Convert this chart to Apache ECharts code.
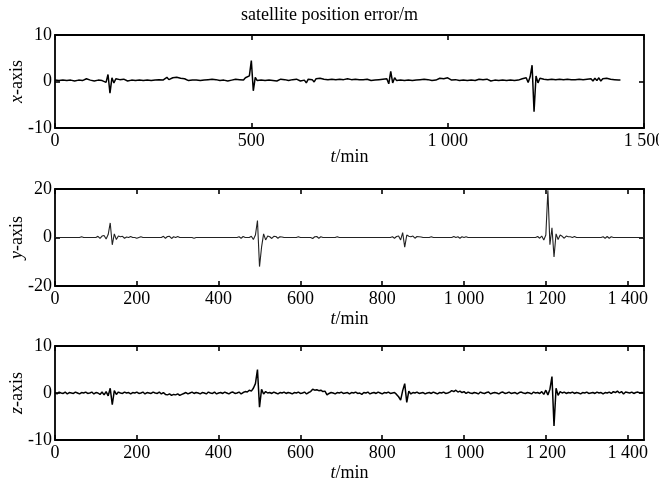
<!DOCTYPE html>
<html><head><meta charset="utf-8">
<script src="https://cdn.jsdelivr.net/npm/echarts@6/dist/echarts.min.js"></script>
<style>html,body{margin:0;padding:0;background:#fff}#c{width:659px;height:481px}</style>
</head><body><div id="c"></div>
<script>
// sample step (minutes)
var stepMin = 5;
var titleText = 'satellite position error/m';
// x-axis error (m), one row per hour (12 samples of 5 min)
var errX = [
0.3,0.5,0.2,0.4,0.3,0.6,0.2,0.4,0.3,0.5,0.1,0.4,
0.3,0.5,0.2,0.4,0.6,0.2,0.3,0.5,0.1,0.4,0.3,0.6,
0.2,0.5,-0.2,1.5,-2.5,0.8,-0.3,0.6,0.2,0.4,0.3,0.5,
0.3,0.1,0.4,0.3,0.5,0.2,0.4,0.3,0.6,0.2,0.4,0.3,
0.5,0.2,0.4,0.3,0.1,0.4,0.6,0.3,0.6,0.9,0.4,0.7,
0.8,0.4,0.9,0.5,0.7,0.3,0.6,0.4,0.2,0.5,0.3,0.4,
0.3,0.5,0.2,0.4,0.3,0.1,0.4,0.3,0.5,0.2,0.4,0.3,
0.2,0.4,0.3,0.5,0.1,0.4,0.3,0.2,0.5,0.3,0.4,0.6,
0.3,0.8,0.5,1.2,4.5,-2.0,0.9,0.2,0.5,0.3,0.4,0.2,
0.4,0.3,0.5,0.2,0.4,0.1,0.3,0.5,0.2,0.4,0.3,0.2,
0.3,0.4,0.2,0.5,0.3,0.1,-0.2,0.3,-0.3,0.5,0.1,0.4,
-0.1,0.6,0.2,0.7,0.3,0.5,0.2,0.4,0.3,0.5,0.2,0.4,
0.3,0.5,0.2,0.4,0.3,0.6,0.2,0.4,0.3,0.5,0.3,0.4,
0.2,0.4,0.3,0.5,0.4,0.2,0.5,0.3,0.6,0.4,0.2,0.5,
0.3,0.6,-0.5,2.2,-0.3,0.8,0.2,0.5,0.3,0.4,0.2,0.5,
0.3,0.4,0.2,0.5,0.3,0.1,0.4,0.3,0.5,0.2,0.4,0.3,
0.2,0.4,0.3,0.5,0.7,0.3,0.6,0.4,0.8,0.5,0.3,0.7,
0.4,0.6,0.2,0.5,0.3,0.4,0.2,0.5,0.3,0.4,0.2,0.3,
0.5,0.3,0.4,0.2,0.5,0.3,0.1,0.4,0.3,0.5,0.2,0.4,
0.3,0.5,0.2,0.4,0.3,0.6,0.2,0.4,0.3,0.5,0.6,0.2,
0.8,-0.2,1.0,3.5,-6.5,1.2,-0.3,0.7,0.3,0.5,0.2,0.4,
0.3,0.5,0.2,0.4,0.3,0.5,0.2,0.4,0.3,0.5,0.2,0.4,
0.3,0.4,0.2,0.5,0.3,0.4,0.2,0.5,0.3,0.6,0.1,0.7,
0.2,0.8,0.1,0.6,0.3,0.7,0.4,0.5,0.3,0.4,0.2,0.3,
0.3];
// y-axis error (m)
var errY = [
0,0,0,0,0,0,0,0,0,0,0,0,
0,0.3,0,0,0,0,0,0,0,0.5,-0.4,0.6,
0.8,-0.6,1.2,6.0,-3.0,1.5,-0.8,0.6,0.3,0.5,-0.3,0.2,
0,0.4,0,0,-0.3,0,0.3,0,0,0,0,0,
0,0,0,0,0,0.5,-0.3,0.4,0.5,-0.4,0.3,0,
0.4,0,0,0,0,0,0,0,-0.3,0,0,0,
0,0,0,0,0,0,0,0,0,0,0,0,
0,0,0,0,0,0,0.3,-0.3,0.4,0,0,0,
0.5,-0.8,1.0,7.0,-12.0,-4.0,1.5,-1.0,0.6,0.3,-0.4,0.5,
0.4,-0.3,0.3,0.2,0,0,0,0,0,0,0,0.3,
0,0,0,0,0,0,-0.4,0.3,0.4,-0.3,0.3,0,
0,0,0,0,0,0,0.3,0,0,0,0,0,
0,0,0,0,0,0,0,0,0,0,0,0,
0,0,0,0,0,0,0,0,0,0.3,-0.3,0.4,
0.6,-1.0,2.0,-4.0,1.0,0.5,0.3,0.6,-0.3,0.4,0.3,0.2,
0,0,0,0,0.3,0,0,0,0,0,0,0,
0,0,0,0.4,0,0.3,-0.3,0.3,0,0.3,0,0,
0,0,0,0,0,0,0,0,0,0,0,0,
0,0,0,0,0,0,0,0,0,0,0,0,
0,0,0,0,0,0,0,0,0.4,-0.3,0.6,-1.0,
1.0,19.5,-3.0,4.0,-8.0,1.5,-0.8,1.0,0.5,-0.3,0.6,0.3,
0.3,0,0.4,0,0,0,0,0,0,0,0,0,
0,0,0,0,0.3,-0.3,0.4,-0.3,0.3,0,0,0,
0,0,0,0,0,0,0,0,0,0,0,0,
0];
// z-axis error (m)
var errZ = [
0.1,-0.2,0.2,0,-0.1,0.2,-0.2,0.1,0,-0.1,0.2,0,
-0.2,0.1,0,0.2,-0.1,0,0.2,-0.2,0.1,0,-0.3,0.2,
-0.4,0.3,-0.6,1.0,-2.5,0.5,-0.3,0.2,0,-0.1,0.2,0,
0.1,-0.2,0.1,0,0.2,-0.1,0,0.2,-0.2,0.1,0,-0.1,
0.2,0,-0.1,0.2,-0.2,0.1,-0.3,-0.4,-0.2,-0.5,-0.3,-0.4,
-0.2,-0.5,-0.3,-0.1,0.1,-0.2,0,0.2,-0.1,0.1,0,-0.2,
0.1,0,-0.2,0.2,0,-0.1,0.2,-0.2,0,0.1,-0.1,0.2,
0,-0.2,0.1,0.2,-0.1,0,0.2,-0.2,0.1,0.3,0.2,0.6,
0.4,1.0,2.0,5.0,-3.0,0.8,-0.2,0.3,0,0.1,-0.1,0.2,
0,-0.2,0.1,0,0.2,-0.1,0.1,0,-0.2,0.1,0,0.2,
-0.1,0,0.2,-0.2,0.1,0.3,0.8,0.6,0.7,0.5,0.6,0.3,
0.4,-0.4,-0.1,0.1,0,-0.2,0.1,0,0.2,-0.1,0,0.1,
-0.2,0.1,0,0.2,-0.1,0,-0.3,0.1,0,0.2,-0.2,0,
0.1,-0.1,0.2,0,-0.2,0.1,0,0.2,-0.1,0,0.1,-0.3,
-0.8,-1.5,0.5,2.0,-2.0,0.4,-0.2,0.1,0,0.2,-0.1,0,
0.1,-0.2,0,0.1,-0.1,0.2,0,-0.2,0.1,0,0.2,-0.1,
0,0.2,0.5,0.3,0.6,0.2,0.4,0.1,0.3,-0.1,0.2,0,
-0.1,0.1,0,-0.2,0.2,0,-0.1,0.1,0.2,-0.2,0,0.1,
0,-0.2,0.1,0.2,-0.1,0,0.2,-0.1,0,0.1,-0.2,0.1,
0.2,0,-0.1,0.1,0,-0.2,0.2,0,0.1,-0.1,0.3,-0.3,
0.6,-0.4,0.8,3.5,-7.0,1.0,-0.5,0.3,0,0.2,-0.1,0.1,
0,0.2,-0.1,0.1,0,-0.2,0.1,0,0.2,-0.1,0,0.1,
-0.1,0.2,0,0.1,-0.2,0.1,0,0.2,-0.1,0.3,0.1,0.4,
0,0.3,-0.2,0.2,0.1,0,0.2,-0.1,0.1,0.2,0,0.1,
0];
var yNames = ['x', 'y', 'z'];
var yRanges = [[-10, 10], [-20, 20], [-10, 10]];
var xMax = [1500, 1440, 1440];
var xInt = [500, 200, 200];

function pairs(arr) { return arr.map(function (v, i) { return [i * stepMin, v]; }); }
var FONT = '"Liberation Serif","Times New Roman",serif';
var grids = [
  {left: 55, right: 15, top: 35, height: 93, outerBoundsMode: 'none', containLabel: false},
  {left: 55, right: 15, top: 189, height: 97, outerBoundsMode: 'none', containLabel: false},
  {left: 55, right: 15, top: 346, height: 94, outerBoundsMode: 'none', containLabel: false}
];
var xNameGaps = [20, 24, 24];
function fmt(v) { var s = String(v); return v >= 1000 ? s.slice(0, s.length - 3) + ' ' + s.slice(-3) : s; }
var lineS = {color: '#000', width: 1.8};
var tickS = {show: true, inside: true, length: 5, lineStyle: {color: '#000', width: 1.6}};
var xAxes = [], yAxes = [], series = [];
var datas = [errX, errY, errZ];
for (var g = 0; g < 3; g++) {
  xAxes.push({type: 'value', gridIndex: g, position: 'bottom', min: 0, max: xMax[g], interval: xInt[g],
    axisLine: {show: true, onZero: false, lineStyle: lineS},
    axisTick: tickS,
    axisLabel: {show: true, color: '#000', fontFamily: FONT, fontSize: 18, margin: 4, formatter: fmt,
      showMaxLabel: g === 0, hideOverlap: false},
    splitLine: {show: false},
    name: '{i|t}/min', nameLocation: 'middle', nameGap: xNameGaps[g], nameMoveOverlap: false,
    nameTextStyle: {color: '#000', fontFamily: FONT, fontSize: 18, rich: {i: {fontStyle: 'italic', fontFamily: FONT, fontSize: 18, color: '#000'}}}
  });
  xAxes.push({type: 'value', gridIndex: g, position: 'top', min: 0, max: xMax[g], interval: xInt[g],
    axisLine: {show: true, onZero: false, lineStyle: lineS},
    axisTick: tickS, axisLabel: {show: false}, splitLine: {show: false}
  });
  yAxes.push({type: 'value', gridIndex: g, position: 'left', min: yRanges[g][0], max: yRanges[g][1], interval: yRanges[g][1],
    axisLine: {show: true, onZero: false, lineStyle: lineS},
    axisTick: tickS,
    axisLabel: {show: true, color: '#000', fontFamily: FONT, fontSize: 18, margin: 3},
    splitLine: {show: false},
    name: '{i|' + yNames[g] + '}-axis', nameLocation: 'middle', nameGap: 29, nameRotate: 90, nameMoveOverlap: false,
    nameTextStyle: {color: '#000', fontFamily: FONT, fontSize: 18, rich: {i: {fontStyle: 'italic', fontFamily: FONT, fontSize: 18, color: '#000'}}}
  });
  yAxes.push({type: 'value', gridIndex: g, position: 'right', min: yRanges[g][0], max: yRanges[g][1], interval: yRanges[g][1],
    axisLine: {show: true, onZero: false, lineStyle: lineS},
    axisTick: tickS, axisLabel: {show: false}, splitLine: {show: false}
  });
  series.push({type: 'line', xAxisIndex: g * 2, yAxisIndex: g * 2, data: pairs(datas[g]),
    showSymbol: false, symbol: 'none', lineStyle: {color: g === 1 ? '#222' : '#000', width: g === 1 ? 1.1 : 1.5}, z: 1});
}
var chart = echarts.init(document.getElementById('c'), null, {renderer: 'canvas'});
chart.setOption({
  animation: false,
  backgroundColor: '#fff',
  title: {text: titleText, left: 'center', top: 1, textStyle: {color: '#000', fontFamily: FONT, fontSize: 18, fontWeight: 'normal'}},
  grid: grids, xAxis: xAxes, yAxis: yAxes, series: series
});
</script></body></html>
